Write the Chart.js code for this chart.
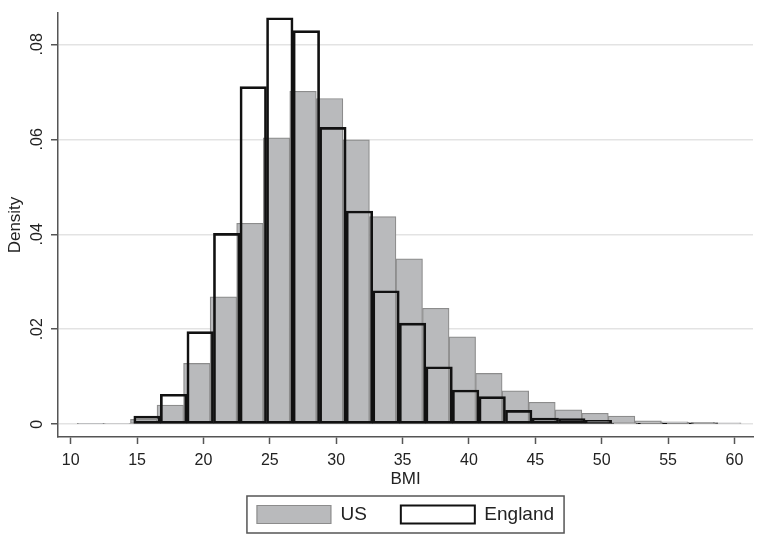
<!DOCTYPE html>
<html>
<head>
<meta charset="utf-8">
<script src="https://cdn.jsdelivr.net/npm/chart.js@4.4.1/dist/chart.umd.min.js"></script>
<style>
  html, body { margin: 0; padding: 0; background: #fff; }
</style>
</head>
<body>
<canvas id="histo" width="760" height="538"></canvas>
<script>
// BMI density histograms, both with bins 2 units wide
const binWidth = 2;
const usFirstBin = 10.5;
const englandFirstBin = 14.75;

const usDensity = [
  0.0001, 0.0002, 0.0010, 0.0040, 0.0128, 0.0268, 0.0423, 0.0603, 0.0701,
  0.0686, 0.0599, 0.0437, 0.0348, 0.0244, 0.0184, 0.0107, 0.0070, 0.0046,
  0.0030, 0.0023, 0.0017, 0.0007, 0.0005, 0.0004, 0.0003
];
const englandDensity = [
  0.0017, 0.0063, 0.0195, 0.0402, 0.0711, 0.0856, 0.0829, 0.0625, 0.0449,
  0.0281, 0.0213, 0.0121, 0.0072, 0.0058, 0.0029, 0.0013, 0.0012, 0.0008,
  0.0002, 0.0001, 0.0001, 0.0003
];

const xTicks = [10, 15, 20, 25, 30, 35, 40, 45, 50, 55, 60];
const yTicks = [0, 0.02, 0.04, 0.06, 0.08];
const seriesNames = ['US', 'England'];

const xMin = 9.04, xMax = 61.4;
const yMin = -0.0027, yMax = 0.0866;

// bar centred on the middle of each bin
function toPoints(start, values) {
  return values.map((d, i) => ({ x: start + binWidth * (i + 0.5), y: d }));
}

Chart.defaults.font.family = '"Liberation Sans", Arial, sans-serif';
Chart.defaults.color = '#222';

// stata style frame round the legend
const legendFrame = {
  id: 'legendFrame',
  afterDraw(chart) {
    const boxes = chart.legend && chart.legend.legendHitBoxes;
    if (!boxes || !boxes.length) return;
    const left = Math.min(...boxes.map(b => b.left)) - 10;
    const right = Math.max(...boxes.map(b => b.left + b.width)) + 10;
    const top = boxes[0].top - 9;
    const bottom = boxes[0].top + boxes[0].height + 9;
    const c = chart.ctx;
    c.save();
    c.strokeStyle = '#555';
    c.lineWidth = 1.5;
    c.strokeRect(left, top, right - left, bottom - top);
    c.restore();
  }
};

const setTicks = list => scale => { scale.ticks = list.map(v => ({ value: v })); };

new Chart(document.getElementById('histo'), {
  type: 'bar',
  data: {
    datasets: [{
      label: seriesNames[0],
      data: toPoints(usFirstBin, usDensity),
      xAxisID: 'x',
      order: 2,
      backgroundColor: '#b9babc',
      borderColor: '#8c8c8c',
      borderWidth: 1.2,
      borderSkipped: false,
      barPercentage: 1,
      categoryPercentage: 1,
      grouped: false
    }, {
      label: seriesNames[1],
      data: toPoints(englandFirstBin, englandDensity),
      xAxisID: 'x2',
      order: 1,
      backgroundColor: 'rgba(255,255,255,0)',
      borderColor: '#111',
      borderWidth: 2,
      borderSkipped: false,
      barPercentage: 1,
      categoryPercentage: 1,
      grouped: false
    }]
  },
  options: {
    responsive: false,
    animation: false,
    devicePixelRatio: 1,
    layout: { padding: { left: 0, right: 7, top: 13, bottom: 4 } },
    plugins: {
      tooltip: { enabled: false },
      legend: {
        position: 'bottom',
        fullSize: false,
        labels: {
          boxWidth: 74,
          boxHeight: 18,
          padding: 34,
          color: '#222',
          font: { size: 19 },
          sort: (a, b) => a.datasetIndex - b.datasetIndex
        }
      }
    },
    scales: {
      x: {
        type: 'linear',
        offset: false,
        min: xMin,
        max: xMax,
        afterBuildTicks: setTicks(xTicks),
        afterFit: s => { s.height = 34; },
        grid: { offset: false, drawOnChartArea: false, tickLength: 7, tickColor: '#555', tickWidth: 1.5 },
        border: { color: '#555', width: 1.5 },
        ticks: { font: { size: 16 }, padding: 7, maxRotation: 0, autoSkip: false },
        title: { display: true, text: 'BMI', font: { size: 17 }, padding: { top: 0, bottom: -19 } }
      },
      x2: {
        type: 'linear',
        display: false,
        offset: false,
        grid: { offset: false },
        min: xMin,
        max: xMax,
        afterBuildTicks: setTicks(xTicks)
      },
      y: {
        min: yMin,
        max: yMax,
        afterBuildTicks: setTicks(yTicks),
        afterFit: s => { s.width = 58; },
        grid: { color: '#e3e3e3', lineWidth: 1.5, tickLength: 7, tickColor: '#555', tickWidth: 1.5 },
        border: { color: '#555', width: 1.5 },
        ticks: {
          font: { size: 16 },
          minRotation: 90,
          maxRotation: 90,
          crossAlign: 'center',
          padding: 2,
          callback: v => v === 0 ? '0' : v.toFixed(2).replace(/^0/, '')
        },
        title: { display: true, text: 'Density', font: { size: 17 }, padding: { top: 5, bottom: 0 } }
      }
    }
  },
  plugins: [legendFrame]
});
</script>
</body>
</html>
